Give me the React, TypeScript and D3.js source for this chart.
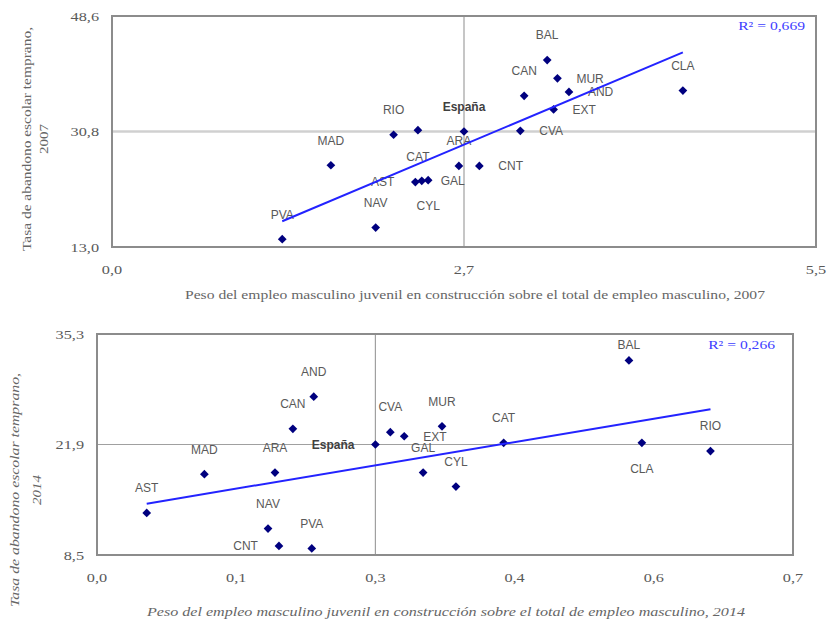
import React, { useEffect, useRef } from 'react';
import * as d3 from 'd3';

// ---- 2007 panel data ----
const regions2007 = ['PVA', 'NAV', 'MAD', 'RIO', 'CAT', 'AST', 'GAL', 'CYL', 'ARA', 'CNT', 'CVA', 'CAN', 'BAL', 'MUR', 'AND', 'EXT', 'CLA'];
const x2007 = [1.33, 2.06, 1.71, 2.2, 2.39, 2.37, 2.42, 2.47, 2.71, 2.87, 3.19, 3.22, 3.4, 3.48, 3.57, 3.45, 4.46];
const y2007 = [14.2, 16.0, 25.6, 30.3, 31.0, 23.0, 23.2, 23.3, 25.5, 25.5, 30.9, 36.3, 41.8, 39.0, 36.9, 34.2, 37.1];
const spain2007 = [2.75, 30.8];
const xTicks2007 = [0, 2.75, 5.5];
const xTickLabels2007 = ['0,0', '2,7', '5,5'];
const yTicks2007 = [13, 30.8, 48.6];
const yTickLabels2007 = ['13,0', '30,8', '48,6'];
const r2Text2007 = 'R² = 0,669';

// ---- 2014 panel data ----
const regions2014 = ['AST', 'MAD', 'ARA', 'NAV', 'CNT', 'PVA', 'CAN', 'AND', 'CVA', 'EXT', 'MUR', 'GAL', 'CYL', 'CAT', 'BAL', 'CLA', 'RIO'];
const x2014 = [0.05, 0.108, 0.179, 0.172, 0.183, 0.216, 0.197, 0.218, 0.295, 0.309, 0.347, 0.328, 0.361, 0.409, 0.535, 0.548, 0.617];
const y2014 = [13.6, 18.3, 18.5, 11.7, 9.6, 9.3, 23.8, 27.7, 23.4, 22.9, 24.1, 18.5, 16.8, 22.1, 32.1, 22.1, 21.1];
const spain2014 = [0.28, 21.9];
const xTicks2014 = [0, 0.14, 0.28, 0.42, 0.56, 0.7];
const xTickLabels2014 = ['0,0', '0,1', '0,3', '0,4', '0,6', '0,7'];
const yTicks2014 = [8.5, 21.9, 35.3];
const yTickLabels2014 = ['8,5', '21,9', '35,3'];
const r2Text2014 = 'R² = 0,266';

const spainName = 'España';
const yTitleLine1 = 'Tasa de abandono escolar temprano,';
const xTitle2007 = 'Peso del empleo masculino juvenil en construcción sobre el total de empleo masculino, 2007';
const xTitle2014 = 'Peso del empleo masculino juvenil en construcción sobre el total de empleo masculino, 2014';

// label placement (t = above, b = below, l = left, r = right)
const labelPos2007 = ['t', 't', 't', 't', 'b', 'l', 'r', 'b', 't', 'r', 'r', 't', 't', 'r', 'r', 'r', 't'];
const labelPos2014 = ['t', 't', 't', 't', 'l', 't', 't', 't', 't', 'r', 't', 't', 't', 't', 't', 'b', 't'];

const panels = [
    {
        regions: regions2007, xs: x2007, ys: y2007, spain: spain2007, spainPos: 't', labelPos: labelPos2007,
        xDomain: [0, 5.5], yDomain: [13, 48.6],
        xTicks: xTicks2007, xTickLabels: xTickLabels2007, yTicks: yTicks2007, yTickLabels: yTickLabels2007,
        box: { left: 112, right: 816, top: 16, bottom: 247 },
        r2: r2Text2007, r2At: [805, 30],
        xTitle: xTitle2007, xTitleAt: [475, 299], xTitleLen: 580, italic: false,
        yTitle2: '2007', yTitleX: [27, 44], yTitleY: 139, yTitleLen: 224,
        hLine: { color: '#d0d0d0', width: 2.5 }
    },
    {
        regions: regions2014, xs: x2014, ys: y2014, spain: spain2014, spainPos: 'l', labelPos: labelPos2014,
        xDomain: [0, 0.7], yDomain: [8.5, 35.3],
        xTicks: xTicks2014, xTickLabels: xTickLabels2014, yTicks: yTicks2014, yTickLabels: yTickLabels2014,
        box: { left: 97, right: 793, top: 334, bottom: 555 },
        r2: r2Text2014, r2At: [775, 349],
        xTitle: xTitle2014, xTitleAt: [446, 616], xTitleLen: 598, italic: true,
        yTitle2: '2014', yTitleX: [15, 37], yTitleY: 490, yTitleLen: 234,
        hLine: { color: '#a0a0a0', width: 1.2 }
    }
];

// least squares fit
const fit = (xs, ys) => {
    const mx = d3.mean(xs), my = d3.mean(ys);
    let sxy = 0, sxx = 0;
    xs.forEach((v, i) => { sxy += (v - mx) * (ys[i] - my); sxx += (v - mx) * (v - mx); });
    const b = sxy / sxx;
    return { a: my - b * mx, b };
};

// stretch text horizontally, the scan is wider than the glyphs
const stretch = (sel, k) => {
    sel.each(function () {
        const len = this.getComputedTextLength();
        d3.select(this).attr('textLength', len * k).attr('lengthAdjust', 'spacingAndGlyphs');
    });
};

const SERIF = '"Liberation Serif", "Times New Roman", serif';
const SANS = '"Liberation Sans", Arial, sans-serif';

const drawPanel = (svg, p) => {
    const { left, right, top, bottom } = p.box;
    const x = d3.scaleLinear().domain(p.xDomain).range([left, right]);
    const y = d3.scaleLinear().domain(p.yDomain).range([bottom, top]);
    const g = svg.append('g');

    //  crossing lines at the Spanish values
    g.append('line')
        .attr('x1', left).attr('x2', right)
        .attr('y1', y(p.spain[1])).attr('y2', y(p.spain[1]))
        .attr('stroke', p.hLine.color).attr('stroke-width', p.hLine.width);
    g.append('line')
        .attr('x1', x(p.spain[0])).attr('x2', x(p.spain[0]))
        .attr('y1', top).attr('y2', bottom)
        .attr('stroke', '#a0a0a0').attr('stroke-width', 1.2);

    g.append('rect')
        .attr('x', left).attr('y', top)
        .attr('width', right - left).attr('height', bottom - top)
        .attr('fill', 'none').attr('stroke', '#8c8c8c').attr('stroke-width', 2);

    //  tick labels
    const xt = g.selectAll('.xtick').data(p.xTicks).enter()
        .append('text')
        .attr('x', d => x(d)).attr('y', bottom + 27)
        .attr('text-anchor', 'middle')
        .attr('font-family', SERIF).attr('font-size', 13).attr('fill', '#595959')
        .text((d, i) => p.xTickLabels[i]);
    stretch(xt, 1.25);
    const yt = g.selectAll('.ytick').data(p.yTicks).enter()
        .append('text')
        .attr('x', left - 13).attr('y', d => y(d) + 4.5)
        .attr('text-anchor', 'end')
        .attr('font-family', SERIF).attr('font-size', 13).attr('fill', '#595959')
        .text((d, i) => p.yTickLabels[i]);
    stretch(yt, 1.25);

    //  axis titles
    g.append('text')
        .attr('x', p.xTitleAt[0]).attr('y', p.xTitleAt[1])
        .attr('text-anchor', 'middle')
        .attr('font-family', SERIF).attr('font-size', 12).attr('fill', '#666')
        .attr('font-style', p.italic ? 'italic' : 'normal')
        .attr('textLength', p.xTitleLen).attr('lengthAdjust', 'spacingAndGlyphs')
        .text(p.xTitle);
    g.append('text')
        .attr('transform', 'translate(' + (p.yTitleX[0] + 4) + ',' + p.yTitleY + ') rotate(-90)')
        .attr('text-anchor', 'middle')
        .attr('font-family', SERIF).attr('font-size', 12).attr('fill', '#666')
        .attr('font-style', p.italic ? 'italic' : 'normal')
        .attr('textLength', p.yTitleLen).attr('lengthAdjust', 'spacingAndGlyphs')
        .text(yTitleLine1);
    const t2 = g.append('text')
        .attr('transform', 'translate(' + (p.yTitleX[1] + 4) + ',' + p.yTitleY + ') rotate(-90)')
        .attr('text-anchor', 'middle')
        .attr('font-family', SERIF).attr('font-size', 12).attr('fill', '#666')
        .attr('font-style', p.italic ? 'italic' : 'normal')
        .text(p.yTitle2);
    stretch(t2, 1.25);

    //  points
    const pts = p.regions.map((r, i) => ({ name: r, x: p.xs[i], y: p.ys[i], pos: p.labelPos[i], bold: false }))
        .concat([{ name: spainName, x: p.spain[0], y: p.spain[1], pos: p.spainPos, bold: true }]);

    g.selectAll('.pt').data(pts).enter()
        .append('path')
        .attr('d', d3.symbol(d3.symbolSquare, 38)())
        .attr('transform', d => 'translate(' + x(d.x) + ',' + y(d.y) + ') rotate(45)')
        .attr('fill', '#00007f');

    g.selectAll('.lbl').data(pts).enter()
        .append('text')
        .attr('x', d => d.pos === 'r' ? x(d.x) + 19 : d.pos === 'l' ? x(d.x) - 21 : x(d.x))
        .attr('y', d => {
            let cy = y(d.y);
            if (d.pos === 't') cy -= 25;
            if (d.pos === 'b') cy += 26;
            return Math.max(cy, top + 11);
        })
        .attr('dy', '0.36em')
        .attr('text-anchor', d => d.pos === 'r' ? 'start' : d.pos === 'l' ? 'end' : 'middle')
        .attr('font-family', SANS).attr('font-size', 12)
        .attr('font-weight', d => d.bold ? 'bold' : 'normal')
        .attr('fill', d => d.bold ? '#404040' : '#595959')
        .text(d => d.name);

    //  linear trend line over the regional range
    const f = fit(p.xs, p.ys);
    g.append('path')
        .datum(d3.extent(p.xs))
        .attr('d', d3.line().x(d => x(d)).y(d => y(f.a + f.b * d)))
        .attr('fill', 'none').attr('stroke', '#2323ff').attr('stroke-width', 2);

    const r2 = g.append('text')
        .attr('x', p.r2At[0]).attr('y', p.r2At[1])
        .attr('text-anchor', 'end')
        .attr('font-family', SERIF).attr('font-size', 12).attr('fill', '#4040ff')
        .text(p.r2);
    stretch(r2, 1.3);
};

export default function App() {
    const ref = useRef(null);

    useEffect(() => {
        const svg = d3.select(ref.current);
        svg.selectAll('*').remove();
        panels.forEach(p => drawPanel(svg, p));
    }, []);

    return (
        <svg ref={ref} width={827} height={623}
            style={{ position: 'absolute', left: 0, top: 0, background: '#fff' }} />
    );
}
